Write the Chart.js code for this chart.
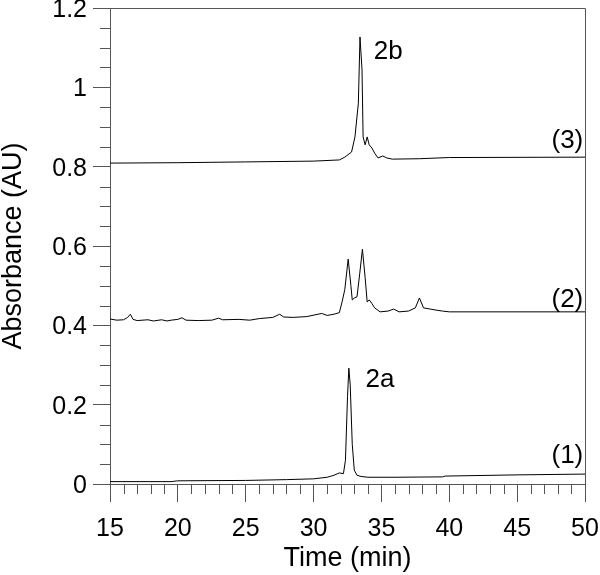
<!DOCTYPE html>
<html>
<head>
<meta charset="utf-8">
<script src="https://cdn.jsdelivr.net/npm/chart.js@4.4.1/dist/chart.umd.min.js"></script>
<style>
    body { margin: 0; background: #fff; }
    #wrap { width: 600px; height: 575px; }
</style>
</head>
<body>
<div id="wrap"><canvas id="chart" width="600" height="575"></canvas></div>
<script>
// Tracce cromatografiche (tempo in min, assorbanza in AU)
const time1 = [15, 19.5, 20, 25, 28, 30, 31, 31.5, 31.9, 32.2, 32.35, 32.5, 32.6, 32.7, 32.85, 33, 33.2, 33.5, 34, 36, 39.5, 39.7, 45, 50];
const abs1 = [0.006, 0.006, 0.008, 0.009, 0.011, 0.013, 0.017, 0.022, 0.028, 0.026, 0.06, 0.22, 0.292, 0.25, 0.1, 0.035, 0.022, 0.019, 0.017, 0.017, 0.018, 0.02, 0.023, 0.025];

const time2 = [15, 15.5, 16, 16.3, 16.5, 16.7, 17, 17.8, 18.2, 18.8, 19.2, 19.5, 20, 20.3, 20.6, 21.5, 22.5, 23, 23.3, 24.5, 25.3, 26, 27, 27.5, 27.8, 28.5, 29.5, 30.6, 31, 31.5, 31.9, 32.1, 32.3, 32.55, 32.75, 32.85, 33, 33.2, 33.4, 33.6, 33.8, 33.95, 34.1, 34.3, 34.5, 34.9, 35.5, 35.9, 36.3, 37, 37.5, 37.8, 38.1, 38.6, 39.1, 39.5, 40, 50];
const abs2 = [0.416, 0.413, 0.414, 0.42, 0.428, 0.415, 0.412, 0.414, 0.411, 0.414, 0.411, 0.413, 0.415, 0.419, 0.413, 0.412, 0.413, 0.418, 0.414, 0.415, 0.413, 0.417, 0.42, 0.428, 0.421, 0.42, 0.422, 0.43, 0.425, 0.428, 0.432, 0.459, 0.49, 0.567, 0.5, 0.464, 0.469, 0.472, 0.53, 0.592, 0.52, 0.459, 0.464, 0.455, 0.444, 0.434, 0.436, 0.441, 0.434, 0.436, 0.444, 0.469, 0.444, 0.441, 0.438, 0.436, 0.434, 0.434];

const time3 = [15, 20, 25, 30, 31.9, 32.3, 32.8, 33.05, 33.3, 33.42, 33.57, 33.65, 33.8, 33.95, 34.1, 34.3, 34.5, 34.75, 35.1, 35.4, 35.8, 37.8, 40, 50];
const abs3 = [0.809, 0.81, 0.812, 0.814, 0.817, 0.824, 0.837, 0.875, 0.96, 1.127, 1.044, 0.875, 0.855, 0.875, 0.855, 0.847, 0.834, 0.822, 0.827, 0.822, 0.819, 0.82, 0.823, 0.824];

const xTickLabels = ['15', '20', '25', '30', '35', '40', '45', '50'];
const yTickLabels = ['0', '0.2', '0.4', '0.6', '0.8', '1', '1.2'];

// Etichette dei picchi e delle tracce
const peakLabels = ['2b', '2a', '(3)', '(2)', '(1)'];
const peakLabelTimes = [35.5, 34.9, 48.7, 48.7, 48.7];
const peakLabelValues = [1.089, 0.262, 0.865, 0.464, 0.071];

const FONT = "'Liberation Sans', Arial, Helvetica, sans-serif";
const AXIS_COLOR = '#555';

function toPoints(times, values) {
    return times.map((t, i) => ({ x: t, y: values[i] }));
}

const frameAndMinorTicks = {
    id: 'frameAndMinorTicks',
    afterDraw(chart) {
        const { ctx, chartArea, scales: { x, y } } = chart;
        ctx.save();
        ctx.strokeStyle = AXIS_COLOR;
        ctx.lineWidth = 1;
        ctx.beginPath();
        // bordo superiore e destro
        ctx.moveTo(Math.round(chartArea.left) + 0.5, Math.round(chartArea.top) + 0.5);
        ctx.lineTo(Math.round(chartArea.right) + 0.5, Math.round(chartArea.top) + 0.5);
        ctx.lineTo(Math.round(chartArea.right) + 0.5, Math.round(chartArea.bottom) + 0.5);
        // tacche minori asse x (ogni minuto)
        for (let t = 15; t <= 50; t++) {
            if (t % 5 === 0) continue;
            const px = Math.round(x.getPixelForValue(t)) + 0.5;
            ctx.moveTo(px, chartArea.bottom);
            ctx.lineTo(px, chartArea.bottom + 10);
        }
        // tacche minori asse y (ogni 0.05)
        for (let i = 0; i <= 24; i++) {
            if (i % 4 === 0) continue;
            const py = Math.round(y.getPixelForValue(i * 0.05)) + 0.5;
            ctx.moveTo(chartArea.left - 10, py);
            ctx.lineTo(chartArea.left, py);
        }
        ctx.stroke();

        ctx.fillStyle = '#000';
        ctx.font = `26px ${FONT}`;
        ctx.textAlign = 'center';
        ctx.textBaseline = 'middle';
        peakLabels.forEach((label, i) => {
            ctx.fillText(label, x.getPixelForValue(peakLabelTimes[i]), y.getPixelForValue(peakLabelValues[i]));
        });
        ctx.restore();
    }
};

function buildChart() {
    const ctx = document.getElementById('chart');
    const trace = (times, values) => ({
        data: toPoints(times, values),
        borderColor: '#000',
        borderWidth: 1,
        pointRadius: 0,
        tension: 0,
        fill: false
    });

    new Chart(ctx, {
        type: 'line',
        data: {
            datasets: [trace(time1, abs1), trace(time2, abs2), trace(time3, abs3)]
        },
        options: {
            responsive: false,
            animation: false,
            devicePixelRatio: 1,
            layout: { padding: { top: 8, right: 15, left: 0, bottom: 0 } },
            scales: {
                x: {
                    type: 'linear',
                    min: 15,
                    max: 50,
                    border: { display: true, color: AXIS_COLOR, width: 1 },
                    grid: { drawOnChartArea: false, drawTicks: true, tickLength: 18, tickColor: AXIS_COLOR },
                    ticks: {
                        stepSize: 5,
                        maxRotation: 0,
                        padding: 12,
                        color: '#000',
                        font: { family: FONT, size: 25 },
                        callback: value => xTickLabels[Math.round((value - 15) / 5)]
                    },
                    title: {
                        display: true,
                        text: 'Time (min)',
                        color: '#000',
                        font: { family: FONT, size: 27, lineHeight: 1 },
                        padding: { top: 0, bottom: 3 }
                    },
                    afterFit: scale => {
                        scale.height = 91;
                        scale.paddingLeft = 0;
                        scale.paddingRight = 0;
                    }
                },
                y: {
                    min: 0,
                    max: 1.2,
                    border: { display: true, color: AXIS_COLOR, width: 1 },
                    grid: { drawOnChartArea: false, drawTicks: true, tickLength: 17, tickColor: AXIS_COLOR },
                    ticks: {
                        stepSize: 0.2,
                        padding: 6,
                        labelOffset: 2,
                        color: '#000',
                        font: { family: FONT, size: 25 },
                        callback: value => yTickLabels[Math.round(value / 0.2)]
                    },
                    title: {
                        display: true,
                        text: 'Absorbance (AU)',
                        color: '#000',
                        font: { family: FONT, size: 27, lineHeight: 1 },
                        padding: { top: 0, bottom: 0 }
                    },
                    afterFit: scale => {
                        scale.width = 110;
                        scale.paddingTop = 0;
                        scale.paddingBottom = 0;
                    }
                }
            },
            plugins: {
                legend: { display: false },
                tooltip: { enabled: false }
            }
        },
        plugins: [frameAndMinorTicks]
    });
}

buildChart();
</script>
</body>
</html>
